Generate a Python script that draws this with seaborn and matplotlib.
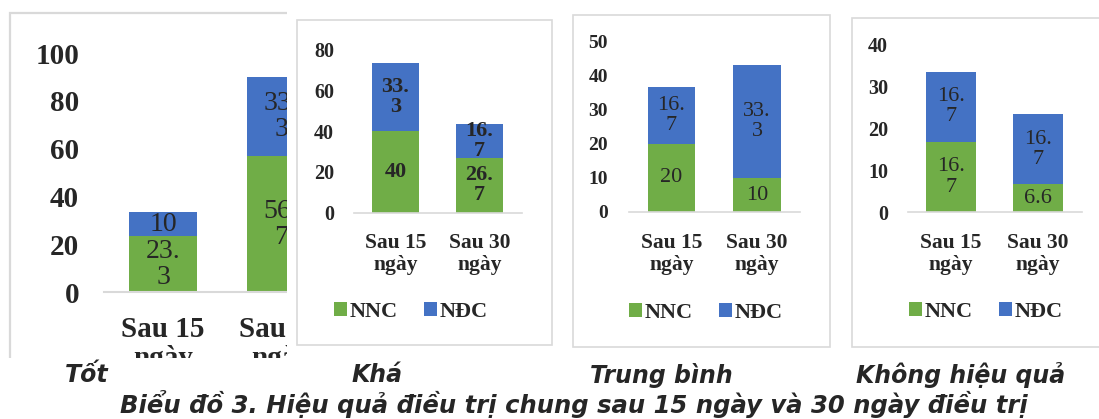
import matplotlib
matplotlib.use("Agg")
import matplotlib.pyplot as plt
from matplotlib.patches import Rectangle, Patch
import seaborn as sns
import pandas as pd

# ---- data -------------------------------------------------------------
periods = ["Sau 15\nngày", "Sau 30\nngày"]
series_names = ["NNC", "NĐC"]

tot_nnc = [23.3, 56.7]
tot_ndc = [10, 33.3]
kha_nnc = [40, 26.7]
kha_ndc = [33.3, 16.7]
tb_nnc = [20, 10]
tb_ndc = [16.7, 33.3]
khq_nnc = [16.7, 6.6]
khq_ndc = [16.7, 16.7]

panel_titles = ["Tốt", "Khá", "Trung bình", "Không hiệu quả"]
caption = "Biểu đồ 3. Hiệu quả điều trị chung sau 15 ngày và 30 ngày điều trị"

y_max = [100, 80, 50, 40]
y_step = [20, 20, 10, 10]

# ---- style ------------------------------------------------------------
GREEN = "#70AD47"
BLUE = "#4472C4"
GRID = "#D9D9D9"
SERIF = "Liberation Serif"

sns.set_theme(style="white")
plt.rcParams["font.family"] = ["DejaVu Sans"]

W, H = 1099, 419
fig = plt.figure(figsize=(W / 100, H / 100), dpi=100)
fig.patch.set_facecolor("white")


def px_rect(x0, y0, x1, y1):
    """Figure-fraction rectangle from pixel corners (origin top-left)."""
    return [x0 / W, 1 - y1 / H, (x1 - x0) / W, (y1 - y0) / H]


def wrap_value(v):
    s = f"{v:g}"
    if len(s) >= 4 and "." in s:
        head, tail = s.split(".")
        return head + ".\n" + tail
    return s


def draw_panel(ax, nnc, ndc, ymax, step, bar_w, ytick_fs, ytick_pad,
               xtick_fs, xtick_pad, xtick_ls, val_fs, val_bold, val_ls,
               spine_lw):
    df = pd.DataFrame({"period": periods, "NNC": nnc, "NĐC": ndc})
    df["total"] = df["NNC"] + df["NĐC"]
    sns.barplot(data=df, x="period", y="total", color=BLUE, width=bar_w,
                saturation=1, linewidth=0, ax=ax, zorder=2)
    sns.barplot(data=df, x="period", y="NNC", color=GREEN, width=bar_w,
                saturation=1, linewidth=0, ax=ax, zorder=2)
    ax.set_xlim(-0.5, 1.5)
    ax.set_ylim(0, ymax)
    ax.set_xlabel("")
    ax.set_ylabel("")
    ax.set_facecolor("none")
    for side in ("top", "right", "left"):
        ax.spines[side].set_visible(False)
    ax.spines["bottom"].set_color(GRID)
    ax.spines["bottom"].set_linewidth(spine_lw)
    ticks = list(range(0, ymax + 1, step))
    ax.set_yticks(ticks)
    ax.set_yticklabels([str(t) for t in ticks], fontsize=ytick_fs,
                       fontweight="bold", family=SERIF)
    ax.set_xticks(range(len(periods)))
    ax.set_xticklabels(periods, fontsize=xtick_fs, fontweight="bold",
                       family=SERIF, linespacing=xtick_ls)
    ax.tick_params(axis="y", length=0, pad=ytick_pad)
    ax.tick_params(axis="x", length=0, pad=xtick_pad)
    weight = "bold" if val_bold else "normal"
    for i, (a, b) in enumerate(zip(nnc, ndc)):
        ax.text(i, a / 2, wrap_value(a), ha="center", va="center",
                fontsize=val_fs, fontweight=weight, family=SERIF,
                linespacing=val_ls, zorder=3)
        ax.text(i, a + b / 2, wrap_value(b), ha="center", va="center",
                fontsize=val_fs, fontweight=weight, family=SERIF,
                linespacing=val_ls, zorder=3)


def add_legend(ax, cx, cy, fs):
    handles = [Patch(facecolor=GREEN, edgecolor="none"),
               Patch(facecolor=BLUE, edgecolor="none")]
    ax.legend(handles, series_names, loc="center",
              bbox_to_anchor=(cx / W, 1 - cy / H),
              bbox_transform=fig.transFigure, ncol=2, frameon=False,
              handlelength=0.6, handleheight=0.6, handletextpad=0.12,
              columnspacing=1.15, borderpad=0,
              prop={"family": SERIF, "weight": "bold", "size": fs})


# ---- panel 1 (Tốt), partly hidden behind the others ---------------------
fig.patches.append(Rectangle((10 / W, 1 - 420 / H), 400 / W, (420 - 13) / H,
                             transform=fig.transFigure, facecolor="white",
                             edgecolor=GRID, linewidth=1.6, zorder=0.2))
ax1 = fig.add_axes(px_rect(104, 53, 340, 292), zorder=0.5)
draw_panel(ax1, tot_nnc, tot_ndc, y_max[0], y_step[0], 0.58,
           ytick_fs=21, ytick_pad=18, xtick_fs=21, xtick_pad=17,
           xtick_ls=1.1, val_fs=20, val_bold=False, val_ls=1.05,
           spine_lw=1.5)

# white covers that cut panel 1 off on the right and bottom
fig.patches.append(Rectangle((287 / W, 0), 1 - 287 / W, 1,
                             transform=fig.transFigure, facecolor="white",
                             edgecolor="none", zorder=1))
fig.patches.append(Rectangle((0, 0), 1, 1 - 358 / H,
                             transform=fig.transFigure, facecolor="white",
                             edgecolor="none", zorder=1))

# ---- panels 2-4 ---------------------------------------------------------
boxes = [(297, 20, 552, 345), (573, 15, 830, 347), (852, 18, 1110, 347)]
for (x0, y0, x1, y1) in boxes:
    fig.patches.append(Rectangle((x0 / W, 1 - y1 / H), (x1 - x0) / W,
                                 (y1 - y0) / H, transform=fig.transFigure,
                                 facecolor="white", edgecolor=GRID,
                                 linewidth=1.2, zorder=1.5))

ax2 = fig.add_axes(px_rect(353.5, 49.5, 521.5, 212.5), zorder=2)
draw_panel(ax2, kha_nnc, kha_ndc, y_max[1], y_step[1], 0.56,
           ytick_fs=14.5, ytick_pad=14, xtick_fs=15.5, xtick_pad=15,
           xtick_ls=1.1, val_fs=16, val_bold=True, val_ls=1.0,
           spine_lw=1.2)
add_legend(ax2, 411, 312, 16)

ax3 = fig.add_axes(px_rect(628.75, 42, 799.75, 212), zorder=2)
draw_panel(ax3, tb_nnc, tb_ndc, y_max[2], y_step[2], 0.55,
           ytick_fs=14, ytick_pad=15, xtick_fs=15.5, xtick_pad=15,
           xtick_ls=1.15, val_fs=16, val_bold=False, val_ls=1.1,
           spine_lw=1.2)
add_legend(ax3, 706, 313, 16)

ax4 = fig.add_axes(px_rect(907.5, 44, 1081.5, 212), zorder=2)
draw_panel(ax4, khq_nnc, khq_ndc, y_max[3], y_step[3], 0.57,
           ytick_fs=14.5, ytick_pad=14, xtick_fs=15.5, xtick_pad=15,
           xtick_ls=1.15, val_fs=16, val_bold=False, val_ls=1.1,
           spine_lw=1.2)
add_legend(ax4, 986, 312, 16)

# ---- panel names and caption --------------------------------------------
title_x = [65, 352, 590, 856]
for x, t in zip(title_x, panel_titles):
    fig.text(x / W, 1 - 375 / H, t, ha="left", va="center", fontsize=17,
             fontweight="bold", fontstyle="italic", family="DejaVu Sans",
             zorder=3)
fig.text(574 / W, 1 - 404 / H, caption, ha="center", va="center",
         fontsize=17.5, fontweight="bold", fontstyle="italic",
         family="DejaVu Sans", zorder=3)

fig.savefig("out.png", dpi=100, facecolor="white")
